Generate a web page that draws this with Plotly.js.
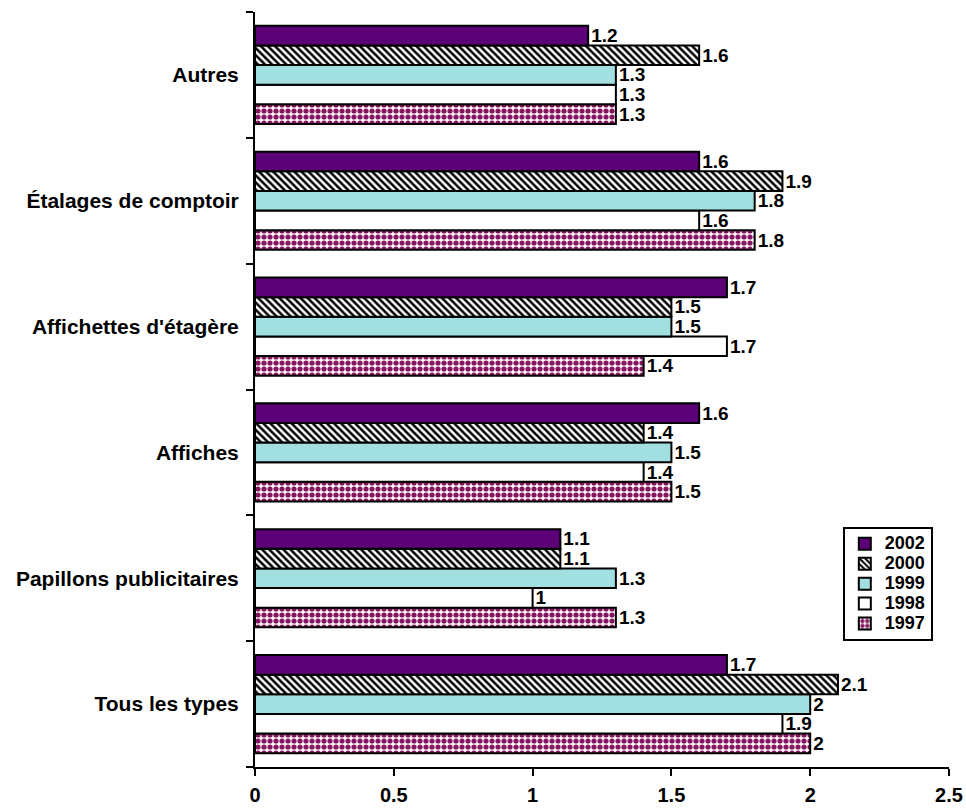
<!DOCTYPE html>
<html>
<head>
<meta charset="utf-8">
<script src="https://cdn.plot.ly/plotly-3.0.1.min.js"></script>
<style>html,body{margin:0;padding:0;background:#fff;}#chart{width:966px;height:811px;}</style>
</head>
<body>
<div id="chart"></div>
<script>
var categories = ["Tous les types", "Papillons publicitaires", "Affiches", "Affichettes d'étagère", "Étalages de comptoir", "Autres"];
var years = ["1997", "1998", "1999", "2000", "2002"];
var v1997 = [2.0, 1.3, 1.5, 1.4, 1.8, 1.3];
var v1998 = [1.9, 1.0, 1.4, 1.7, 1.6, 1.3];
var v1999 = [2.0, 1.3, 1.5, 1.5, 1.8, 1.3];
var v2000 = [2.1, 1.1, 1.4, 1.5, 1.9, 1.6];
var v2002 = [1.7, 1.1, 1.6, 1.7, 1.6, 1.2];
var xTicks = [0, 0.5, 1, 1.5, 2, 2.5];

var font = "Liberation Sans, Arial, sans-serif";
var series = [v1997, v1998, v1999, v2000, v2002];
var styles = [
  {color: "#ffffff", pattern: {shape: ".", fgcolor: "#86165f", bgcolor: "#ffffff", size: 6, solidity: 0.6}},
  {color: "#ffffff"},
  {color: "#a2dfe0"},
  {color: "#ffffff", pattern: {shape: "\\", fgcolor: "#000000", bgcolor: "#ffffff", size: 5, solidity: 0.5}},
  {color: "#5c0078"}
];
var traces = series.map(function (vals, i) {
  var m = {color: styles[i].color, line: {color: "#000000", width: 2}};
  if (styles[i].pattern) m.pattern = styles[i].pattern;
  return {
    type: "bar",
    orientation: "h",
    name: "<span style='font-size:18px'>" + years[i] + "</span>",
    y: categories,
    x: vals,
    text: vals.map(function (v) { return String(v); }),
    textposition: "outside",
    constraintext: "none",
    cliponaxis: false,
    textfont: {family: font, size: 19, color: "#000000", weight: "bold"},
    marker: m
  };
});

var layout = {
  width: 966,
  height: 811,
  margin: {l: 255, r: 17, t: 12, b: 44},
  paper_bgcolor: "#ffffff",
  plot_bgcolor: "#ffffff",
  barmode: "group",
  bargap: 0.22,
  bargroupgap: 0,
  showlegend: true,
  font: {family: font, size: 20, color: "#000000"},
  xaxis: {
    range: [0, 2.5],
    tickvals: xTicks,
    ticktext: xTicks.map(String),
    showgrid: false,
    zeroline: false,
    showline: true,
    linecolor: "#000000",
    linewidth: 2,
    ticks: "outside",
    ticklen: 7,
    tickwidth: 2,
    tickcolor: "#000000",
    ticklabelstandoff: 2,
    tickfont: {family: font, size: 20, color: "#000000", weight: "bold"}
  },
  yaxis: {
    showgrid: false,
    zeroline: false,
    showline: true,
    linecolor: "#000000",
    linewidth: 2,
    ticks: "outside",
    tickson: "boundaries",
    ticklen: 7,
    tickwidth: 2,
    tickcolor: "#000000",
    ticklabelstandoff: 10,
    tickfont: {family: font, size: 21, color: "#000000", weight: "bold"}
  },
  legend: {
    x: 0.847,
    y: 0.318,
    xanchor: "left",
    yanchor: "top",
    traceorder: "reversed",
    bgcolor: "#ffffff",
    bordercolor: "#000000",
    borderwidth: 2,
    itemwidth: 30,
    font: {family: font, size: 13, color: "#000000", weight: "bold"}
  }
};

Plotly.newPlot("chart", traces, layout, {displayModeBar: false, staticPlot: true});
</script>
</body>
</html>
